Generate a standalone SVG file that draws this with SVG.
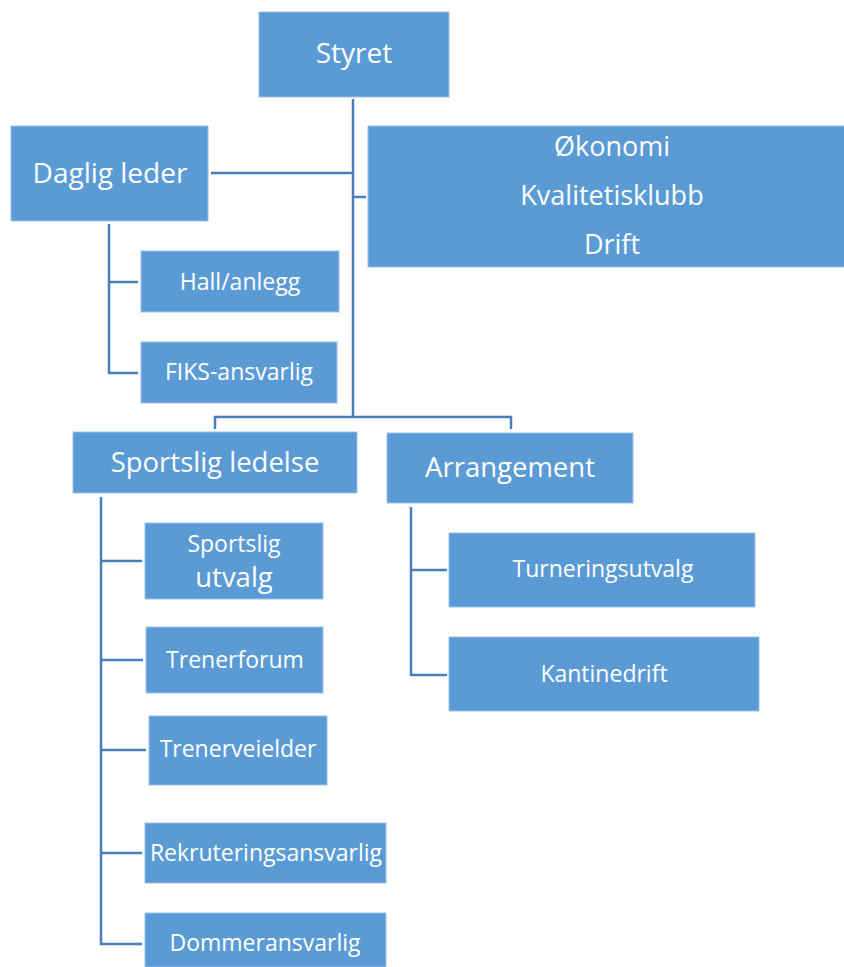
<svg xmlns="http://www.w3.org/2000/svg" width="844" height="967" viewBox="0 0 844 967">
<style>
  .box { fill: #5b9bd5; stroke: #9cc2e6; stroke-width: 1; }
  .t { fill: #ffffff; font-family: "Open Sans", "Noto Sans", "Liberation Sans", sans-serif; text-anchor: middle; }
  .big { font-size: 28px; }
  .sub { font-size: 23px; }
  .con { fill: none; stroke: #4a7ebb; stroke-width: 2.5; }
</style>
<rect width="844" height="967" fill="#ffffff"/>
<g id="connectors">
  <path class="con" d="M353,99 V417"/>
  <path class="con" d="M211,173 H353"/>
  <path class="con" d="M353,197 H366"/>
  <path class="con" d="M109,224 V373 H138"/>
  <path class="con" d="M109,282 H138"/>
  <path class="con" d="M215,429 V417 H511 V429"/>
  <path class="con" d="M101,497 V944 H142"/>
  <path class="con" d="M101,561 H142"/>
  <path class="con" d="M101,660 H143"/>
  <path class="con" d="M101,750 H146"/>
  <path class="con" d="M101,853 H142"/>
  <path class="con" d="M411,507 V675 H447"/>
  <path class="con" d="M411,570 H447"/>
</g>
<g id="styret">
  <rect class="box" x="259" y="12" width="190" height="85"/>
  <text class="t big" x="354" y="63">Styret</text>
</g>
<g id="daglig-leder">
  <rect class="box" x="11" y="126" width="197" height="95"/>
  <text class="t big" x="110" y="183">Daglig leder</text>
</g>
<g id="okonomi">
  <rect class="box" x="368" y="126" width="478" height="141"/>
  <text class="t" font-size="27" x="612" y="156">Økonomi</text>
  <text class="t" font-size="27" x="612" y="205">Kvalitetisklubb</text>
  <text class="t" font-size="27" x="612" y="254">Drift</text>
</g>
<g id="hall-anlegg">
  <rect class="box" x="141" y="251" width="198" height="61"/>
  <text class="t sub" x="240" y="290">Hall/anlegg</text>
</g>
<g id="fiks-ansvarlig">
  <rect class="box" x="141" y="342" width="196" height="61"/>
  <text class="t sub" x="239" y="380">FIKS-ansvarlig</text>
</g>
<g id="sportslig-ledelse">
  <rect class="box" x="73" y="432" width="284" height="61"/>
  <text class="t" font-size="27.5" x="215" y="472">Sportslig ledelse</text>
</g>
<g id="arrangement">
  <rect class="box" x="387" y="433" width="246" height="70"/>
  <text class="t" font-size="27.5" x="510" y="477">Arrangement</text>
</g>
<g id="sportslig-utvalg">
  <rect class="box" x="145" y="523" width="178" height="76"/>
  <text class="t sub" x="234" y="552">Sportslig</text>
  <text class="t" font-size="27.5" x="234" y="587">utvalg</text>
</g>
<g id="trenerforum">
  <rect class="box" x="146" y="627" width="177" height="66"/>
  <text class="t sub" x="235" y="668">Trenerforum</text>
</g>
<g id="trenerveielder">
  <rect class="box" x="149" y="716" width="178" height="69"/>
  <text class="t sub" x="238" y="757">Trenerveielder</text>
</g>
<g id="rekruteringsansvarlig">
  <rect class="box" x="145" y="823" width="241" height="60"/>
  <text class="t sub" x="266" y="861">Rekruteringsansvarlig</text>
</g>
<g id="dommeransvarlig">
  <rect class="box" x="145" y="913" width="241" height="54"/>
  <text class="t sub" x="265" y="951">Dommeransvarlig</text>
</g>
<g id="turneringsutvalg">
  <rect class="box" x="449" y="533" width="306" height="74"/>
  <text class="t sub" x="603" y="577">Turneringsutvalg</text>
</g>
<g id="kantinedrift">
  <rect class="box" x="449" y="637" width="310" height="74"/>
  <text class="t sub" x="604" y="682">Kantinedrift</text>
</g>
</svg>
